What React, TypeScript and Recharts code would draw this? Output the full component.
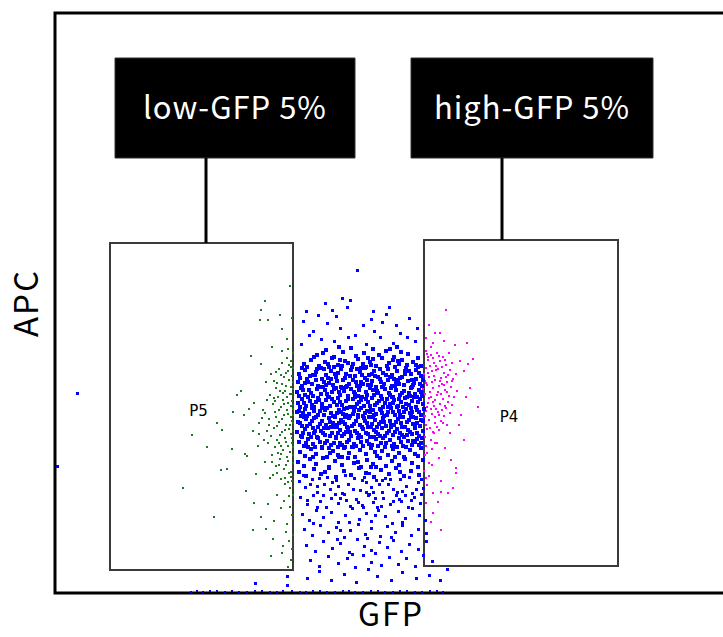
import { ScatterChart, Scatter, XAxis, YAxis, ReferenceArea, ReferenceLine } from "recharts";

// events: [GFP, APC] in plot units (0..690 x 0..580)
const blueCore = [
  [262,238],[271,243],[279,236],[288,241],[296,245],[301,237],[309,240],[318,244],[324,238],[331,242],[339,236],[346,241],[353,239],[284,246],[313,235],[342,246],[268,240],[335,244],
  [249,229],[256,233],[264,227],[270,231],[277,235],[283,228],[290,232],[297,226],[303,234],[308,229],[315,231],[321,227],[327,235],[334,230],[340,226],[347,233],[352,228],[358,231],[363,235],[259,236],[293,230],[311,226],[344,229],[366,227],[274,226],[318,234],[287,227],[338,233],
  [244,219],[250,223],[255,217],[261,221],[266,225],[271,218],[276,222],[281,216],[286,224],[291,219],[296,223],[300,217],[305,221],[310,225],[314,218],[319,222],[323,216],[328,220],[333,224],[337,218],[342,222],[347,216],[351,225],[356,219],[361,223],[366,217],[247,225],[258,218],[269,224],[283,220],[302,224],[317,219],[335,216],[354,222],[363,226],[279,226],
  [243,211],[247,207],[252,214],[257,209],[261,213],[265,206],[269,211],[273,215],[278,208],[282,212],[286,206],[290,215],[294,209],[298,213],[302,207],[306,211],[310,215],[313,208],[317,212],[321,206],[325,214],[329,209],[333,213],[337,207],[341,211],[345,215],[349,208],[353,212],[357,206],[361,214],[365,209],[368,213],[250,210],[276,214],[292,207],[308,209],[327,206],[343,213],[359,210],[271,208],
  [242,201],[246,205],[250,198],[254,203],[258,197],[262,204],[266,199],[270,203],[274,196],[277,201],[281,205],[285,198],[289,202],[293,197],[296,204],[300,199],[304,203],[307,196],[311,201],[315,205],[319,198],[322,202],[326,197],[330,204],[334,200],[338,196],[341,203],[345,198],[349,202],[352,196],[356,205],[360,199],[364,203],[367,197],[244,197],[268,206],[287,205],[303,197],[318,203],[336,205],[354,200],[362,196],
  [243,190],[247,194],[251,187],[255,192],[259,186],[263,195],[267,189],[271,193],[275,187],[279,191],[283,195],[287,188],[291,192],[295,186],[298,194],[302,189],[306,193],[309,187],[313,191],[317,195],[320,188],[324,192],[328,186],[332,194],[335,189],[339,193],[343,187],[346,191],[350,195],[354,188],[357,192],[361,186],[365,194],[368,189],[245,186],[261,191],[285,191],[300,196],[315,187],[330,190],[348,186],[359,196],[273,196],[337,196],
  [242,181],[246,177],[250,184],[254,179],[257,185],[261,176],[265,182],[269,178],[272,185],[276,180],[280,176],[284,183],[288,179],[292,185],[295,177],[299,182],[303,178],[306,185],[310,180],[314,176],[318,183],[321,179],[325,184],[329,177],[333,181],[336,185],[340,178],[344,182],[347,176],[351,184],[355,180],[358,176],[362,183],[366,178],[369,184],[248,180],[267,186],[282,180],[297,186],[312,182],[327,180],[342,186],[357,181],[290,176],
  [243,171],[247,167],[251,174],[255,169],[259,175],[263,166],[267,172],[271,168],[274,175],[278,170],[282,166],[286,173],[290,169],[294,175],[297,167],[301,172],[305,168],[309,175],[312,170],[316,166],[320,173],[324,169],[328,175],[331,167],[335,172],[339,168],[343,174],[346,170],[350,166],[354,173],[358,169],[361,175],[365,167],[368,172],[249,176],[276,166],[303,176],[326,171],[348,176],[362,170],[284,170],[318,176],
  [242,161],[246,157],[250,164],[254,159],[258,165],[262,156],[266,162],[270,158],[273,165],[277,160],[281,156],[285,163],[289,159],[293,165],[296,157],[300,162],[304,158],[308,164],[311,160],[315,156],[319,163],[323,159],[327,165],[330,157],[334,162],[338,158],[342,164],[345,160],[349,156],[353,163],[357,159],[360,165],[364,157],[368,162],[259,160],[291,161],[313,166],[336,166],[352,158],[279,166],
  [244,151],[249,147],[253,154],[258,149],[263,155],[267,146],[272,152],[276,148],[281,155],[285,150],[290,146],[294,153],[299,149],[303,155],[308,147],[312,152],[317,148],[321,154],[326,150],[330,146],[335,153],[339,149],[344,155],[348,147],[353,152],[357,148],[362,154],[366,150],[247,156],[270,150],[297,146],[319,156],[341,146],[360,151],[283,146],[328,155],
  [245,141],[250,137],[256,144],[261,139],[267,145],[272,136],[278,142],[283,138],[289,145],[294,140],[300,136],[305,143],[311,139],[316,145],[322,137],[327,142],[333,138],[338,144],[344,140],[349,136],[355,143],[360,139],[366,145],[253,146],[275,140],[298,146],[320,141],[342,146],[363,137],[287,136],
  [243,131],[249,127],[255,134],[261,129],[268,135],[274,126],[280,132],[287,128],[293,135],[299,130],[306,126],[312,133],[318,129],[325,135],[331,127],[337,132],[344,128],[350,134],[357,130],[363,126],[368,133],[258,136],[284,136],[321,126],[340,136],[303,131],
  [244,121],[251,117],[259,124],[266,119],[274,125],[281,116],[289,122],[296,118],[304,125],[311,120],[319,116],[326,123],[334,119],[341,125],[349,117],[356,122],[364,118],[270,121],[316,126],[345,121],
];

const blueCoreDense = [
  [245,215],[253,211],[260,218],[267,214],[274,210],[280,219],[288,213],[295,217],[301,211],[307,218],[312,213],[320,217],[326,211],[331,218],[339,214],[344,209],[350,219],[357,213],[364,220],[367,207],
  [248,203],[256,200],[263,207],[272,199],[279,204],[284,201],[291,206],[299,201],[305,207],[312,198],[316,208],[323,200],[328,206],[335,198],[340,207],[347,200],[355,197],[358,208],[366,201],[253,196],
  [249,190],[257,188],[264,193],[269,185],[277,194],[282,188],[289,184],[293,194],[300,186],[304,191],[311,194],[316,183],[322,190],[327,194],[333,186],[338,190],[344,194],[351,189],[356,185],[363,191],
  [244,182],[252,177],[259,182],[263,178],[270,183],[278,177],[286,181],[291,178],[298,179],[304,183],[308,177],[315,181],[319,178],[326,183],[332,178],[338,181],[345,178],[349,181],[356,177],[364,181],
  [245,170],[252,167],[257,172],[265,169],[269,165],[275,171],[280,168],[288,171],[292,166],[299,169],[307,166],[310,172],[317,169],[322,166],[329,171],[336,168],[341,171],[347,166],[352,171],[360,168],[366,173],
  [248,160],[256,156],[260,162],[268,160],[275,157],[283,160],[287,157],[295,161],[302,160],[306,156],[313,159],[321,161],[325,157],[332,160],[340,161],[347,158],[355,161],[362,160],[367,155],
  [251,150],[260,146],[265,151],[274,145],[279,150],[287,148],[292,151],[301,147],[306,151],[314,149],[323,147],[331,150],[337,147],[346,151],[351,146],[358,152],[364,148],
  [252,226],[262,224],[273,229],[285,233],[298,229],[306,225],[316,228],[325,224],[332,227],[343,232],[350,222],[361,228],
];

const blueUpper = [
  [302,323],[296,293],[251,282],[277,283],[292,285],[318,282],[334,285],[263,278],[281,276],[331,279],[248,272],[272,270],[308,268],[327,271],[355,275],[362,265],
  [258,262],[285,264],[300,258],[319,262],[345,260],[352,256],[266,254],[279,251],[293,256],[311,249],[325,255],[338,250],[360,252],[246,249],[254,258],[316,274],[341,268],[287,295],[270,290],
];

const blueLower = [
  [244,112],[250,106],[257,114],[262,101],[269,109],[275,104],[281,113],[287,100],[293,108],[299,115],[305,103],[311,110],[316,106],[321,113],[327,101],[333,109],[339,104],[345,114],[351,107],[357,100],[363,111],[368,105],[272,116],[318,101],[330,115],[348,102],[283,107],[309,116],
  [248,118],[255,109],[264,115],[277,111],[290,118],[298,104],[307,113],[314,119],[324,108],[335,114],[342,101],[354,116],[361,104],[366,114],[262,107],[311,101],[327,113],
  [245,96],[252,89],[258,98],[265,92],[271,86],[276,95],[283,90],[289,99],[296,87],[301,94],[307,88],[313,97],[318,91],[322,85],[328,95],[335,89],[341,98],[347,92],[353,86],[359,96],[365,90],[262,86],[291,93],[315,99],[326,87],[344,94],[367,99],[280,99],
  [253,93],[268,97],[286,95],[303,91],[320,95],[338,92],[356,93],[350,97],
  [247,79],[254,73],[261,83],[268,76],[276,81],[283,71],[290,78],[297,84],[304,74],[311,80],[317,72],[323,83],[330,77],[337,70],[343,82],[350,75],[357,84],[364,78],[258,70],[294,71],[320,78],[348,71],[370,73],[308,85],
  [249,64],[257,58],[265,68],[273,61],[281,66],[289,56],[296,63],[303,69],[310,59],[317,65],[325,57],[332,67],[340,61],[348,68],[356,58],[363,64],[285,63],[312,55],[336,56],[371,60],
  [251,48],[260,42],[268,52],[277,45],[286,50],[294,41],[302,54],[309,47],[316,43],[324,51],[332,46],[339,53],[347,42],[355,49],[363,44],[371,52],[282,54],[320,40],
  [255,33],[264,27],[273,37],[283,30],[292,35],[300,26],[308,38],[317,31],[326,28],[334,36],[343,29],[351,34],[360,27],[368,38],[377,32],[297,39],
  [232,17],[252,15],[264,22],[276,13],[289,19],[301,11],[313,23],[322,16],[336,12],[348,21],[361,14],[374,18],[386,12],[392,23],[200,10],[232,8],
];

const blueFloor = [
  [136,1],[142,2],[148,1],[155,2],[162,2],[170,1],[177,2],[184,1],[192,1],[200,2],[207,2],[215,1],[222,1],[228,2],[237,2],[245,1],[251,1],[258,2],[265,2],[272,1],[280,1],
  [288,2],[294,2],[300,1],[308,1],[316,2],[323,2],[330,1],[338,1],[345,2],[352,2],[360,1],[367,1],[375,2],[382,2],[388,1],
];

const blueStray = [[22,200],[2,127]];

const greenEvents = [
  [235,307],[210,292],[206,283],[205,273],[213,273],[225,278],[227,264],[237,275],[232,254],[217,246],[227,242],[196,237],[232,235],[182,198],[186,202],[178,181],[162,170],[167,163],[137,158],[152,146],[177,144],[190,139],[192,137],[166,123],[172,124],[128,105],[191,102],[159,76],[199,90],[198,63],[206,76],[211,64],[218,54],[216,37],[227,40],[228,47],[199,190],[194,184],[189,178],[198,162],[204,159],[207,175],[208,183],[214,168],[203,147],[210,131],[215,115],[222,98],[226,85],[219,72],[231,61],[234,52],[236,33],[233,26],[237,44],[229,92],[235,105],[213,89],[224,128],[201,119],[206,229],[221,221],[236,226],[229,216],[211,211],
  [216,219],[224,224],[231,220],[237,217],[219,212],[227,209],[234,213],[221,205],[230,202],[236,206],[215,198],[223,196],[228,193],[235,199],[218,189],[226,186],[233,190],[238,184],[220,181],[229,178],[236,176],[214,174],[224,171],[231,168],[237,172],[219,165],[227,161],[234,164],[216,157],[222,153],[230,155],[237,150],[220,146],[228,143],[235,141],[217,138],[225,134],[232,136],[238,130],[221,127],[229,124],[236,121],[218,118],[226,114],[233,111],[237,192],[232,183],[225,158],[238,162],[233,147],[213,150],[212,193],[238,204],[231,128],[223,140],[237,112],[234,97],[237,78],[232,69],[238,58],[235,86],[230,115],[238,138],[221,176],[210,180],[217,131],[236,232],[238,240],[233,244],[209,153],[204,170],[238,98],[234,120],[238,225],[227,230],[219,195],[212,162],[226,147],[237,155],[238,170],
  [226,218],[233,222],[222,210],[231,207],[237,199],[225,202],[232,196],[220,192],[229,189],[236,187],[224,183],[233,179],[227,174],[235,168],[222,167],[230,163],[236,159],[224,150],[231,151],[238,146],[226,139],[233,132],[222,120],[230,109],[236,116],[238,188],[238,211],[228,200],[234,228],[238,178],
];

const magentaEvents = [
  [391,283],[374,268],[380,260],[385,260],[378,250],[400,248],[412,250],[418,234],[423,186],[406,178],[409,153],[401,125],[401,120],[398,105],[393,100],[386,101],[378,100],[383,91],[378,80],[376,71],[386,63],[394,240],[405,232],[413,229],[409,222],[397,212],[415,205],[371,255],[376,246],[389,252],[372,140],[384,135],[377,128],[390,145],[395,160],[380,150],[374,117],[386,112],[371,90],[396,133],[404,168],[411,196],[372,108],[379,160],[392,168],
  [371,242],[376,238],[382,240],[388,236],[373,233],[379,230],[385,232],[391,228],[397,230],[371,225],[377,222],[383,224],[389,220],[395,223],[401,219],[374,216],[380,213],[386,215],[392,211],[398,214],[372,208],[378,205],[384,207],[390,203],[396,206],[402,202],[370,199],[376,196],[382,198],[388,194],[394,197],[373,190],[379,187],[385,189],[391,185],[397,188],[371,182],[377,179],[383,181],[389,177],[395,180],[374,173],[380,170],[386,172],[392,168],[372,164],[378,161],[384,163],[370,156],[376,153],[382,150],[371,147],[377,144],[373,236],[369,219],[369,190],[369,172],[370,212],[381,227],[387,209],[375,201],[393,191],[381,184],[399,196],[387,183],[368,204],[375,165],[370,138],[374,130],[369,122],[371,115],
  [372,239],[378,235],[384,237],[390,233],[375,227],[381,223],[387,226],[393,218],[373,220],[379,217],[385,212],[391,216],[371,210],[377,211],[383,201],[389,208],[374,195],[380,193],[386,199],[392,201],[372,186],[378,191],[384,178],[390,187],[370,177],[376,184],[382,166],[388,170],[371,168],[380,176],
];

// gates: [gfp1, gfp2, apc1, apc2]
const gateP5 = [55, 238, 23, 350];
const gateP4 = [369, 563, 27, 353];
const gateNames = ["P5", "P4"];
const calloutTexts = ["low-GFP 5%", "high-GFP 5%"];
const calloutBoxes = [[60, 300], [356, 598]];
const calloutApc = [435, 535];
const connectorGfp = [151, 447];

const toEvents = (pts: number[][]) => pts.map(([gfp, apc]) => ({ gfp, apc }));

const dot = (color: string, size: number) => (p: any) => (
  <rect x={Math.round(p.cx - size / 2)} y={Math.round(p.cy - size / 2)} width={size} height={size} fill={color} />
);

const FONT = "'Noto Sans CJK JP', 'Noto Sans', sans-serif";

export default function App() {
  const core = toEvents([...blueCore, ...blueCoreDense]);
  const blue = toEvents([...blueUpper, ...blueLower, ...blueStray]);
  const floor = toEvents(blueFloor);
  const green = toEvents(greenEvents);
  const magenta = toEvents(magentaEvents);
  const gates = [gateP5, gateP4];

  return (
    <div style={{ position: "absolute", left: 0, top: 0, width: 723, height: 637, overflow: "hidden", background: "#fff" }}>
      <ScatterChart width={760} height={637} margin={{ top: 13, right: 15, bottom: 0, left: 0 }}>
        <XAxis
          type="number"
          dataKey="gfp"
          domain={[0, 690]}
          height={44}
          axisLine={false}
          tick={false}
          tickLine={false}
          label={{ value: "GFP", position: "center", dx: -9, dy: 0, fontSize: 32, letterSpacing: 2, fill: "#000", fontFamily: FONT }}
        />
        <YAxis
          type="number"
          dataKey="apc"
          domain={[0, 580]}
          width={55}
          axisLine={false}
          tick={false}
          tickLine={false}
          label={{ value: "APC", position: "center", angle: -90, dx: -1, fontSize: 33, letterSpacing: 2, fill: "#000", fontFamily: FONT }}
        />
        <ReferenceArea x1={0} x2={690} y1={0} y2={580} fill="none" stroke="#000" strokeWidth={3} ifOverflow="visible" />
        {gates.map((g, i) => (
          <ReferenceArea
            key={gateNames[i]}
            x1={g[0]}
            x2={g[1]}
            y1={g[2]}
            y2={g[3]}
            fill="#fff"
            fillOpacity={0}
            stroke="#3a3a3a"
            strokeWidth={2}
            label={{ value: gateNames[i], position: "center", dx: i === 0 ? -3 : -12, dy: i === 0 ? 4 : 14, fontSize: 15, fill: "#000", fontFamily: "'DejaVu Sans', sans-serif" }}
          />
        ))}
        {calloutBoxes.map((b, i) => (
          <ReferenceArea
            key={calloutTexts[i]}
            x1={b[0]}
            x2={b[1]}
            y1={calloutApc[0]}
            y2={calloutApc[1]}
            fill="#000"
            fillOpacity={1}
            stroke="#333"
            strokeWidth={1}
            label={{ value: calloutTexts[i], position: "center", fontSize: 31, letterSpacing: 1, fill: "#fff", fontFamily: FONT }}
          />
        ))}
        {connectorGfp.map((x, i) => (
          <ReferenceLine
            key={x}
            segment={[{ x, y: calloutApc[0] }, { x, y: gates[i][3] }]}
            stroke="#000"
            strokeWidth={3}
          />
        ))}
        <Scatter data={green} fill="#1f7a1f" shape={dot("#1f7a1f", 2)} isAnimationActive={false} />
        <Scatter data={magenta} fill="#ff00ff" shape={dot("#ff00ff", 2)} isAnimationActive={false} />
        <Scatter data={floor} fill="#0000ff" shape={dot("#0000ff", 2)} isAnimationActive={false} />
        <Scatter data={blue} fill="#0000ff" shape={dot("#0000ff", 3)} isAnimationActive={false} />
        <Scatter data={core} fill="#0000ff" shape={dot("#0000ff", 4)} isAnimationActive={false} />
      </ScatterChart>
    </div>
  );
}
